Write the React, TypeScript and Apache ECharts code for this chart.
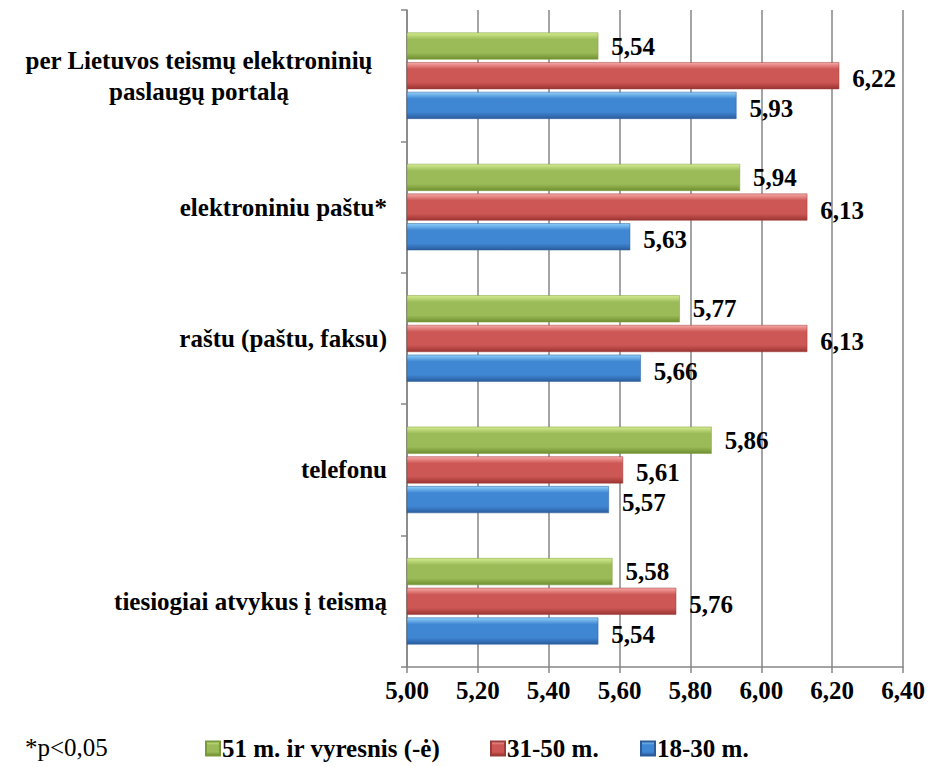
import React, { useEffect, useRef } from "react";
import * as echarts from "echarts";

const categories = [
  "per Lietuvos teismų elektroninių\npaslaugų portalą",
  "elektroniniu paštu*",
  "raštu (paštu, faksu)",
  "telefonu",
  "tiesiogiai atvykus į teismą",
];
const seriesNames = ["51 m. ir vyresnis (-ė)", "31-50 m.", "18-30 m."];
const olderValues = [5.54, 5.94, 5.77, 5.86, 5.58];
const middleValues = [6.22, 6.13, 6.13, 5.61, 5.76];
const youngValues = [5.93, 5.63, 5.66, 5.57, 5.54];
const xTicks = { min: 5.0, max: 6.4, interval: 0.2 };
const note = "*p<0,05";

const FONT = "Times New Roman";
const FS = 25;

function grad(top: string, mid: string, bottom: string) {
  return new echarts.graphic.LinearGradient(0, 0, 0, 1, [
    { offset: 0, color: top },
    { offset: 0.25, color: mid },
    { offset: 0.75, color: mid },
    { offset: 1, color: bottom },
  ]);
}

export default function App() {
  const ref = useRef<HTMLDivElement>(null);
  useEffect(() => {
    if (!ref.current) return;
    const chart = echarts.init(ref.current, null, { renderer: "svg" });
    const colors = [
      { g: grad("#d4ec8f", "#9bbb59", "#6f8f30"), border: "#7a9a3a" },
      { g: grad("#f7a9a7", "#cd5754", "#9b3432"), border: "#9b3c3a" },
      { g: grad("#8fd0fa", "#3f86d3", "#2a5d9e"), border: "#2b5c98" },
    ];
    const vals = [olderValues, middleValues, youngValues];
    const fmt = (v: number) => v.toFixed(2).replace(".", ",");
    const series = seriesNames.map((name, i) => ({
      name,
      type: "bar",
      data: vals[i],
      barWidth: 27,
      barGap: "10%",
      itemStyle: { color: colors[i].g, borderColor: colors[i].border, borderWidth: 0.5 },
      label: {
        show: true,
        position: "right",
        distance: 13,
        offset: [0, i === 0 ? 0 : 3],
        formatter: (p: any) => fmt(p.value),
        fontFamily: FONT,
        fontWeight: "bold",
        fontSize: FS,
        color: "#000",
      },
    }));
    const legendBase = {
      orient: "horizontal",
      top: 736,
      padding: 0,
      itemWidth: 14,
      itemHeight: 14,
      itemGap: 0,
      icon: "rect",
      textStyle: { fontFamily: FONT, fontWeight: "bold", fontSize: FS, color: "#000", padding: [0, 0, 0, -3] },
    };
    chart.setOption({
      animation: false,
      backgroundColor: "#fff",
      grid: { left: 407, right: 25, top: 10, bottom: 100, containLabel: false },
      legend: [
        { ...legendBase, left: 205, data: [seriesNames[0]] },
        { ...legendBase, left: 490, data: [seriesNames[1]] },
        { ...legendBase, left: 640, data: [seriesNames[2]] },
      ],
      xAxis: {
        type: "value",
        min: xTicks.min,
        max: xTicks.max,
        interval: xTicks.interval,
        axisLine: { show: true, lineStyle: { color: "#868686", width: 1.5 } },
        axisTick: { show: true, length: 6, lineStyle: { color: "#868686", width: 1.5 } },
        splitLine: { show: true, lineStyle: { color: "#868686", width: 1.5 } },
        axisLabel: {
          formatter: (v: number) => fmt(v),
          fontFamily: FONT,
          fontWeight: "bold",
          fontSize: FS,
          color: "#000",
          margin: 11,
        },
      },
      yAxis: {
        type: "category",
        data: categories,
        inverse: true,
        axisLine: { show: true, lineStyle: { color: "#868686", width: 1.5 } },
        axisTick: { show: true, length: 6, lineStyle: { color: "#868686", width: 1.5 } },
        axisLabel: {
          margin: 20,
          formatter: (v: string) => {
            if (v.indexOf("\n") >= 0) {
              return v.split("\n").map((s) => `{c|${s}}`).join("\n");
            }
            return `{r|${v}}`;
          },
          rich: {
            c: { width: 376, align: "center", fontFamily: FONT, fontWeight: "bold", fontSize: FS, color: "#000", lineHeight: 31 },
            r: { fontFamily: FONT, fontWeight: "bold", fontSize: FS, color: "#000" },
          },
        },
      },
      graphic: [
        {
          type: "text",
          left: 25,
          top: 735,
          style: { text: note, font: `${FS}px ${FONT}`, fill: "#000" },
        },
      ],
      series,
    });
    return () => chart.dispose();
  }, []);
  return <div ref={ref} style={{ position: "absolute", left: 0, top: 0, width: 928, height: 767 }} />;
}
